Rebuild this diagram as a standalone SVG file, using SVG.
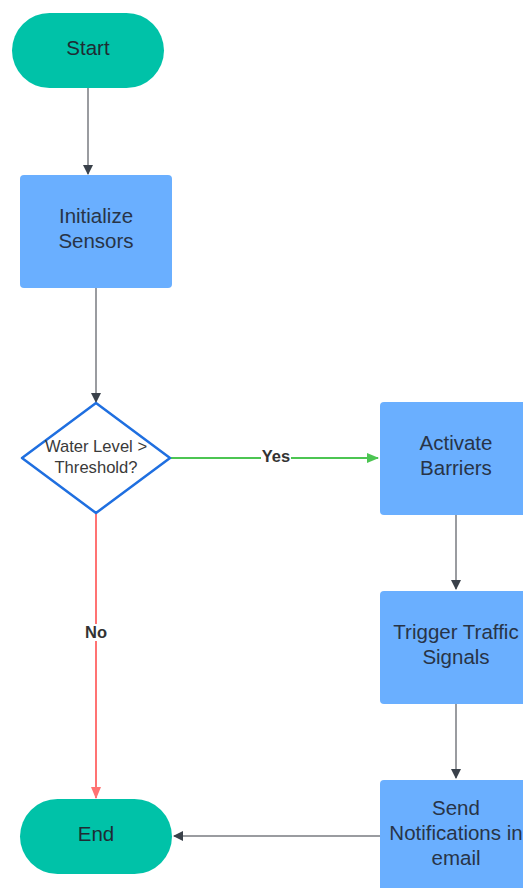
<svg xmlns="http://www.w3.org/2000/svg" width="523" height="888" viewBox="0 0 523 888">
<defs>
<style>
.term{fill:#00C2A8;}
.proc{fill:#6AAFFF;}
.t{font-family:"Liberation Sans",Arial,sans-serif;font-size:20.5px;fill:#283447;text-anchor:middle;}
.td{font-family:"Liberation Sans",Arial,sans-serif;font-size:16.6px;fill:#3a3a3a;text-anchor:middle;}
.lbl{font-family:"Liberation Sans",Arial,sans-serif;font-size:16.5px;font-weight:bold;fill:#333;text-anchor:middle;}
.c{fill:none;stroke-width:2;}
</style>
<marker id="ag" markerWidth="10" markerHeight="10" refX="9" refY="5" orient="auto" markerUnits="userSpaceOnUse" viewBox="0 0 10 10"><path d="M0,0 L10,5 L0,10 z" fill="#3A414A"/></marker>
<marker id="agr" markerWidth="12" markerHeight="12" refX="11" refY="6" orient="auto" markerUnits="userSpaceOnUse" viewBox="0 0 12 12"><path d="M0,1 L12,6 L0,11 z" fill="#4CC552"/></marker>
<marker id="ar" markerWidth="12" markerHeight="12" refX="11" refY="6" orient="auto" markerUnits="userSpaceOnUse" viewBox="0 0 12 12"><path d="M0,1 L12,6 L0,11 z" fill="#FF7373"/></marker>
</defs>
<rect width="523" height="888" fill="#ffffff"/>
<g id="connectors">
<line class="c" x1="88" y1="88" x2="88" y2="174" stroke="#9A9CA0" marker-end="url(#ag)"/>
<line class="c" x1="96" y1="288" x2="96" y2="402" stroke="#9A9CA0" marker-end="url(#ag)"/>
<line class="c" x1="171" y1="458" x2="378" y2="458" stroke="#4CC552" marker-end="url(#agr)"/>
<rect x="261" y="450" width="30" height="13" fill="#ffffff"/>
<text class="lbl" x="276" y="462">Yes</text>
<line class="c" x1="96" y1="514" x2="96" y2="798" stroke="#FF7373" marker-end="url(#ar)"/>
<rect x="84" y="624" width="24" height="17" fill="#ffffff"/>
<text class="lbl" x="96" y="638">No</text>
<line class="c" x1="456" y1="515" x2="456" y2="589" stroke="#9A9CA0" marker-end="url(#ag)"/>
<line class="c" x1="456" y1="704" x2="456" y2="778" stroke="#9A9CA0" marker-end="url(#ag)"/>
<line class="c" x1="380" y1="836" x2="174" y2="836" stroke="#9A9CA0" marker-end="url(#ag)"/>
</g>
<g id="start">
<rect class="term" x="12" y="13" width="152" height="75" rx="37.5"/>
<text class="t" x="88" y="55" style="fill:#1f2b33">Start</text>
</g>
<g id="init">
<rect class="proc" x="20" y="175" width="152" height="113" rx="4"/>
<text class="t" x="96" y="223">Initialize</text>
<text class="t" x="96" y="248">Sensors</text>
</g>
<g id="decision">
<polygon points="96,403 170,458 96,513 22,458" fill="#ffffff" stroke="#1F6FE0" stroke-width="2.5" stroke-linejoin="round"/>
<text class="td" x="96" y="452">Water Level &gt;</text>
<text class="td" x="96" y="473">Threshold?</text>
</g>
<g id="activate">
<rect class="proc" x="380" y="402" width="152" height="113" rx="4"/>
<text class="t" x="456" y="450">Activate</text>
<text class="t" x="456" y="475">Barriers</text>
</g>
<g id="trigger">
<rect class="proc" x="380" y="591" width="152" height="113" rx="4"/>
<text class="t" x="456" y="639">Trigger Traffic</text>
<text class="t" x="456" y="664">Signals</text>
</g>
<g id="send">
<rect class="proc" x="380" y="780" width="152" height="113" rx="4"/>
<text class="t" x="456" y="815">Send</text>
<text class="t" x="456" y="840">Notifications in</text>
<text class="t" x="456" y="865">email</text>
</g>
<g id="end">
<rect class="term" x="20" y="799" width="152" height="75" rx="37.5"/>
<text class="t" x="96" y="841" style="fill:#1f2b33">End</text>
</g>
</svg>
